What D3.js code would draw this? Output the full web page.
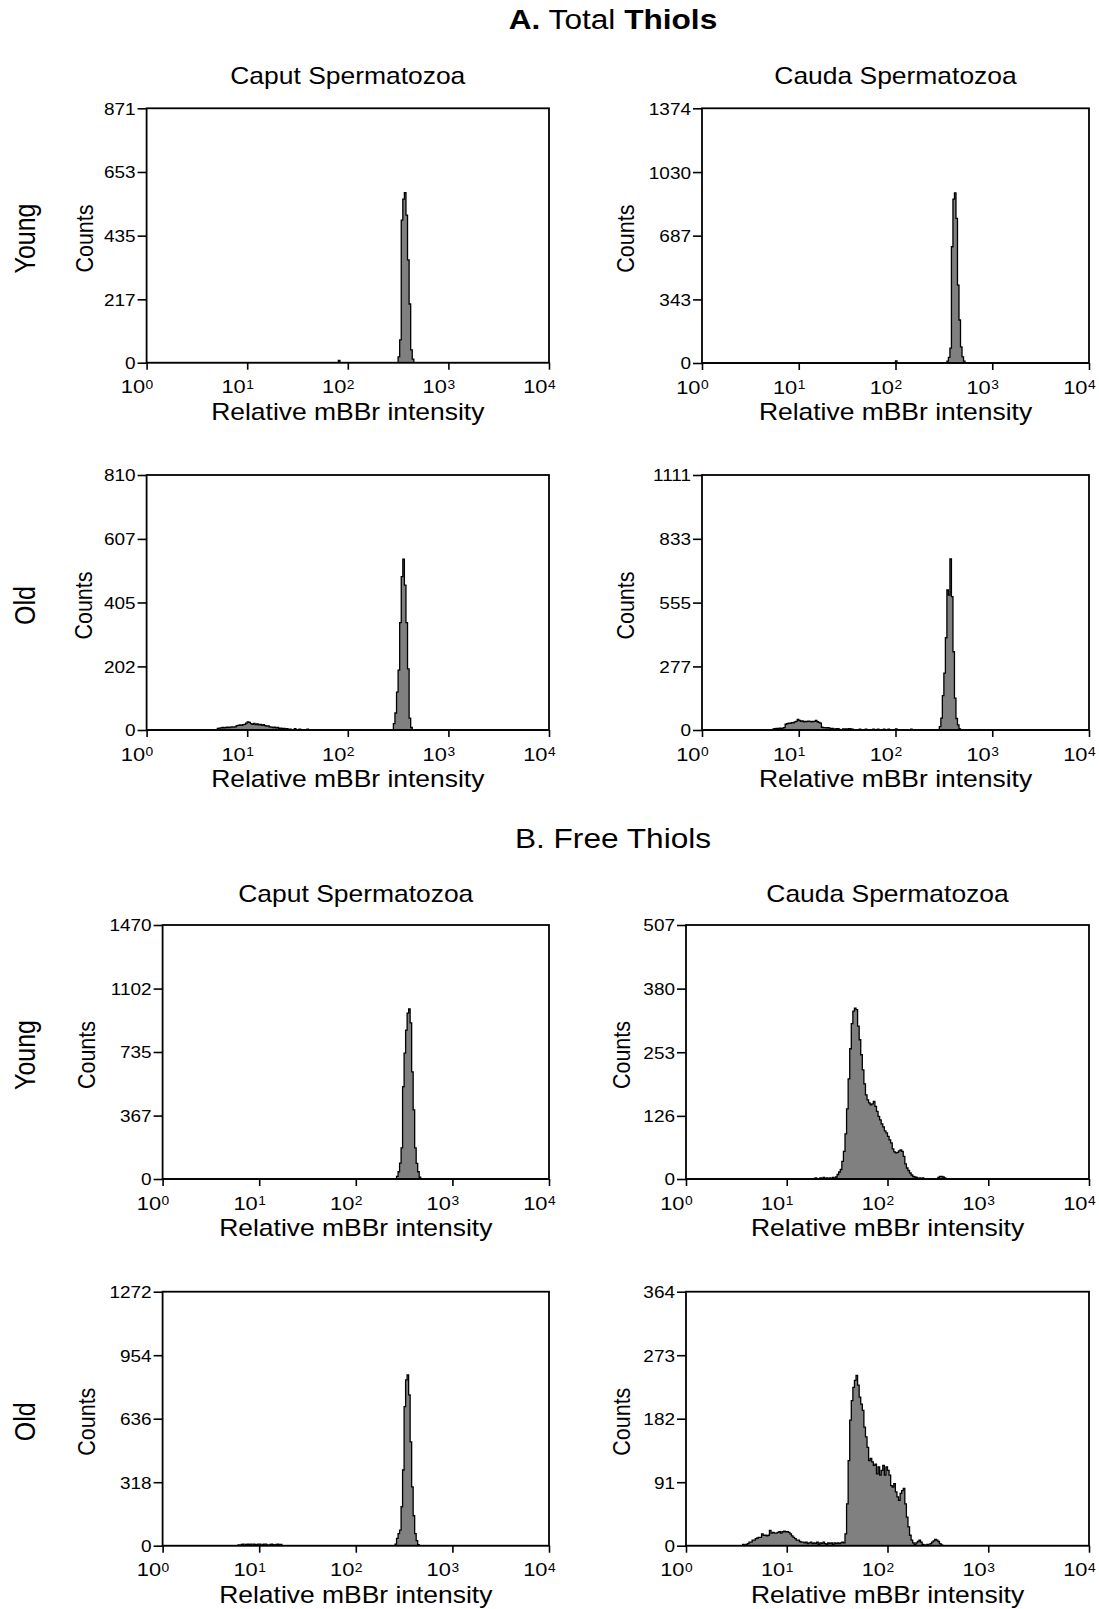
<!DOCTYPE html>
<html><head><meta charset="utf-8">
<script src="https://cdn.jsdelivr.net/npm/d3@7"></script>
<style>
body{margin:0;background:#fff}
svg{display:block}
text{font-family:"Liberation Sans",Arial,Helvetica,sans-serif;fill:#000}
</style>
</head><body>
<svg id="chart" width="1099" height="1609"></svg>
<script>
// ---------------- DATA ----------------
const xTickExponents = [0, 1, 2, 3, 4];
const colLabels = ["Caput Spermatozoa", "Cauda Spermatozoa"];
const rowLabels = ["Young", "Old", "Young", "Old"];
const channelsPerDecade = 64;   // 256 log channels over 4 decades

// y-axis tick labels per panel
const yTicksTotalCaputYoung = [0, 217, 435, 653, 871];
const yTicksTotalCaudaYoung = [0, 343, 687, 1030, 1374];
const yTicksTotalCaputOld   = [0, 202, 405, 607, 810];
const yTicksTotalCaudaOld   = [0, 277, 555, 833, 1111];
const yTicksFreeCaputYoung  = [0, 367, 735, 1102, 1470];
const yTicksFreeCaudaYoung  = [0, 126, 253, 380, 507];
const yTicksFreeCaputOld    = [0, 318, 636, 954, 1272];
const yTicksFreeCaudaOld    = [0, 91, 182, 273, 364];

// histogram counts: [startChannel, [counts...]] segments
const histTotalCaputYoung = [
  [122, [8]],
  [160, [20, 78, 488, 560, 582, 505, 352, 201, 44, 12]]
];
const histTotalCaudaYoung = [
  [128, [12]],
  [162, [10, 30, 80, 627, 884, 918, 780, 420, 232, 87, 33, 10]]
];
const histTotalCaputOld = [
  [45, [5,6,7,8,7,8,9,8,9,10, 9,10,14,15,16,15,17,18,22,26, 24,20,18,21,17,19,16,18,15,17,
        14,12,13,10,9,8,9,7,8,5, 6,4,5,3,4,0,3,0,0,4, 0,0,3,0,0,0,0,3]],
  [157, [20, 54, 120, 190, 341, 487, 543, 460, 341, 194, 38, 8]]
];
const histTotalCaudaOld = [
  [47, [5,6,7,6,8,7,8,10, 25,28,30,29,32,31,35,38,46,42, 38,40,36,38,37,39,38,36,37,38,
        42,36,33,30,12,10,10,9,10,8, 6,7,4,5,6,5,0,0,5,4, 5,4,6,5,4]],
  [104, [4]], [108, [4]], [113, [4]], [116, [4]], [120, [4]], [123, [4]], [128, [5]], [138, [4]],
  [157, [15, 52, 150, 248, 402, 610, 588, 745, 581, 341, 139, 50, 22, 5]]
];
const histFreeCaputYoung = [
  [155, [15, 42, 92, 180, 534, 728, 862, 960, 984, 903, 620, 400, 180, 90, 42, 10]]
];
const histFreeCaudaYoung = [
  [82, [2,0,0,2,0,3,0,2,0,2,0,3,0,4]],
  [96, [9,14,19,35,55,90,140,200,260,310, 335,341,338,305,278,248,218,190,168,158,
        152,148,150,155,145,135,125,118,110,104, 96,92,85,78,72,60,54,52,53,56,
        58,55,45,30,22,17,12,8,5,4, 3,0,2,0,2]],
  [160, [3, 5, 5, 4, 2]]
];
const histFreeCaputOld = [
  [50, [4,0,6,8,0,6,8,5,8,0,8,6,4,8,8,0,6,8,8,4,0,6,8,5,0,6,8,4,6]],
  [154, [8, 37, 60, 78, 195, 379, 696, 830, 855, 755, 520, 295, 150, 60, 25, 5]]
];
const histFreeCaudaOld = [
  [36, [2,0,2,3,5,5,8,8,10,11, 12,12,17,15,15,14,15,22,18,19, 18,18,19,20,18,20,21,20,20,19,
        17,14,12,10,8,8,6,5,5,4, 5,3,4,5,3,4,3,5,2,4, 3,5,3,2,4,3,4,2,4,3, 4,3,4,5]],
  [100, [4,17,60,122,180,208,227,237,244,230, 213,203,194,170,156,141,122,125,120,115,
         117,103,113,101,108,115,101,113,108,101, 86,84,89,77,70,65,75,79,82,60,
         41,27,15,8,4,1,4,6,8,5, 2]],
  [151, [1, 0, 2, 0, 3, 5, 7, 9, 8, 6, 3, 1]]
];

// ---------------- LAYOUT ----------------
const SX = 1.15; // horizontal stretch of the original figure's text
const panels = [
  {hist: histTotalCaputYoung, ticks: yTicksTotalCaputYoung, box: [146.6, 108.3, 549, 362.7], countsX: 84},
  {hist: histTotalCaudaYoung, ticks: yTicksTotalCaudaYoung, box: [702, 108.3, 1089, 363], countsX: 625},
  {hist: histTotalCaputOld,   ticks: yTicksTotalCaputOld,   box: [146.6, 475, 549, 730], countsX: 83},
  {hist: histTotalCaudaOld,   ticks: yTicksTotalCaudaOld,   box: [702, 475, 1089, 730], countsX: 625},
  {hist: histFreeCaputYoung,  ticks: yTicksFreeCaputYoung,  box: [162.6, 925, 549, 1179], countsX: 86.5},
  {hist: histFreeCaudaYoung,  ticks: yTicksFreeCaudaYoung,  box: [686, 925, 1089, 1179], countsX: 621},
  {hist: histFreeCaputOld,    ticks: yTicksFreeCaputOld,    box: [162.6, 1291.7, 549, 1545.7], countsX: 86.5},
  {hist: histFreeCaudaOld,    ticks: yTicksFreeCaudaOld,    box: [686, 1291.7, 1089, 1545.7], countsX: 621}
];

const svg = d3.select("#chart");
svg.append("rect").attr("width", 1099).attr("height", 1609).attr("fill", "#fff");

function label(x, y, str, size, opts = {}) {
  const t = svg.append("text")
    .attr("transform", `translate(${x},${y}) scale(${SX},1)` + (opts.rotate ? " rotate(-90)" : ""))
    .attr("text-anchor", opts.anchor || "middle")
    .style("font-size", size + "px");
  if (opts.central) t.attr("dominant-baseline", "central");
  if (typeof str === "string") t.text(str);
  else str.forEach(p => t.append("tspan").style("font-weight", p[1] ? "bold" : "normal").text(p[0]));
  return t;
}

// section titles
label(613, 29, [["A.", true], [" Total ", false], ["Thiols", true]], 27.5);
label(613, 848, "B. Free Thiols", 27.5);

// column headers
[[0, 84], [4, 901.5]].forEach(([pi, y]) => {
  colLabels.forEach((c, ci) => {
    const b = panels[pi + ci].box;
    label((b[0] + b[2]) / 2, y, c, 23);
  });
});

// row labels
panels.filter((p, i) => i % 2 === 0).forEach((p, ri) => {
  const b = p.box;
  label(25, (b[1] + b[3]) / 2 + 3, rowLabels[ri], 25, {rotate: true, central: true});
});

panels.forEach(p => {
  const [x0, y0, x1, y1] = p.box;
  const xs = d3.scaleLog().domain([1, 1e4]).range([x0, x1]);
  const ys = d3.scaleLinear().domain([0, p.ticks[p.ticks.length - 1]]).range([y1, y0]);

  // dense channel array
  const counts = new Array(256).fill(0);
  p.hist.forEach(([s, arr]) => arr.forEach((v, i) => { counts[s + i] = v; }));
  const pts = counts.map((v, c) => ({c, v}));
  pts.push({c: 256, v: 0});

  const area = d3.area()
    .x(d => xs(Math.pow(10, d.c / channelsPerDecade)))
    .y0(ys(0))
    .y1(d => ys(d.v))
    .curve(d3.curveStepAfter);

  svg.append("path").datum(pts)
    .attr("d", area)
    .attr("fill", "#808080")
    .attr("stroke", "#000")
    .attr("stroke-width", 1.3)
    .attr("stroke-linejoin", "miter");

  // box
  svg.append("rect").attr("x", x0).attr("y", y0).attr("width", x1 - x0).attr("height", y1 - y0)
    .attr("fill", "none").attr("stroke", "#000").attr("stroke-width", 1.8);

  // y axis
  const ya = svg.append("g").attr("transform", `translate(${x0},0)`)
    .call(d3.axisLeft(ys).tickValues(p.ticks).tickSize(9).tickFormat(d3.format("d")));
  ya.select(".domain").remove();
  ya.selectAll(".tick line").attr("stroke", "#000").attr("stroke-width", 1.6);
  ya.selectAll(".tick text")
    .attr("x", -11 / SX).attr("dy", "0.36em")
    .attr("transform", `scale(${SX},1)`)
    .style("font-size", "16.5px")
    .attr("font-family", null).attr("fill", "#000");

  // x axis
  const xa = svg.append("g").attr("transform", `translate(0,${y1})`)
    .call(d3.axisBottom(xs).tickValues(xTickExponents.map(e => Math.pow(10, e))).tickSize(7).tickFormat(""));
  xa.select(".domain").remove();
  xa.selectAll(".tick line").attr("stroke", "#000").attr("stroke-width", 1.6);

  xTickExponents.forEach(e => {
    const tx = xs(Math.pow(10, e));
    label(tx - 1.5, y1 + 30.5, "10", 19, {anchor: "end"});
    label(tx - 1, y1 + 26, String(e), 12, {anchor: "start"});
  });

  // axis titles
  label((x0 + x1) / 2, y1 + 57, "Relative mBBr intensity", 23);
  label(p.countsX, (y0 + y1) / 2 + 3, "Counts", 21.5, {rotate: true, central: true});
});
</script>
</body></html>
